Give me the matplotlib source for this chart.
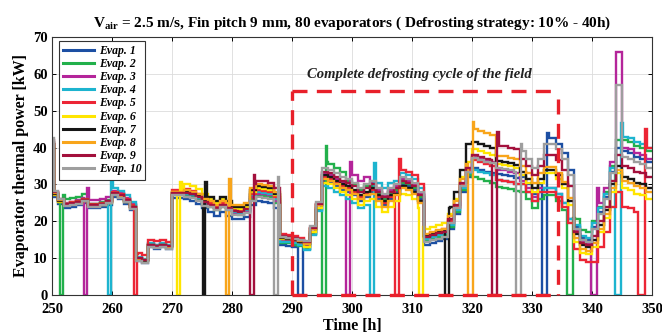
import matplotlib
matplotlib.use("Agg")
import matplotlib.pyplot as plt
from matplotlib.lines import Line2D

# ---------------- data ----------------
T = [250, 250.3] + list(range(251, 350))
T_END = 350

names = ["Evap. 1", "Evap. 2", "Evap. 3", "Evap. 4", "Evap. 5",
         "Evap. 6", "Evap. 7", "Evap. 8", "Evap. 9", "Evap. 10"]
colors = ["#1c4fa3", "#22b04b", "#b4259a", "#1db4cf", "#ec2535",
          "#ffe500", "#161616", "#f8a51b", "#a3103c", "#9e9e9e"]

evap1 = [40, 26.7, 24.7, 23.7, 24.0, 24.4, 25.0, 23.6, 23.6, 23.9, 24.5, 26.7, 26.0, 24.7, 23.0,
         9.2, 8.7, 12.9, 12.6, 12.9, 12.4, 26.3, 26.3, 26.0, 25.5, 24.8, 23.5, 22.5, 21.5, 22.5, 21.5,
         20.7, 20.5, 21.2, 24.5, 25.5, 25.3, 25.0, 23.5, 13.5, 13.3, 13.0, 12.5, 12.5, 16.5, 23.0,
         31.0, 30.5, 29.5, 28.5, 28.0, 27.0, 25.5, 26.5, 28.0, 26.0, 24.5, 26.0, 28.0, 30.0, 29.5,
         28.5, 26.0, 13.7, 14.2, 14.7, 15.2, 18.0, 22.0, 28.0, 32.0, 34.5, 34.0, 33.5, 33.0, 32.7,
         32.5, 32.2, 31.7, 32.0, 30.0, 27.5, 30.0, 42.5, 42.5, 41.0, 38.5, 34.0, 18.5, 15.5, 15.0,
         18.5, 22.5, 26.5, 33.5, 40, 39.0, 38.5, 37.5, 37.0, 36.0]
evap2 = [41, 27.8, 25.8, 26.0, 26.3, 26.7, 27.3, 24.8, 24.8, 25.1, 25.7, 28.0, 27.3, 26.0, 24.3,
         10.0, 9.5, 13.7, 13.4, 13.7, 13.2, 27.2, 27.2, 27.0, 26.5, 25.8, 24.5, 24.0, 23.0, 24.0, 23.0,
         22.0, 21.8, 22.5, 26.0, 27.0, 26.8, 26.5, 25.0, 14.2, 14.0, 13.7, 13.2, 12.5, 16.5, 23.0,
         36.0, 35.5, 34.5, 33.5, 31.0, 30.0, 28.5, 29.5, 29.5, 27.5, 26.0, 27.5, 28.5, 30.5, 30.0,
         29.0, 26.5, 14.7, 15.2, 15.7, 16.2, 18.5, 22.5, 28.5, 32.5, 32.0, 31.5, 31.0, 30.5, 29.2,
         29.0, 28.7, 28.2, 28.0, 26.0, 23.5, 26.0, 27.0, 27.0, 25.5, 23.0, 18.5, 20.5, 17.5, 17.0,
         20.0, 24.0, 28.0, 35.0, 42, 42.0, 41.5, 40.5, 40.0, 39.0]
evap3 = [41, 27.5, 25.5, 25.0, 25.3, 25.7, 26.3, 25.8, 25.8, 26.1, 26.7, 28.3, 27.6, 26.3, 24.6,
         10.1, 9.6, 13.8, 13.5, 13.8, 13.3, 27.5, 27.5, 27.5, 27.0, 26.3, 25.0, 24.5, 23.5, 24.5, 23.5,
         22.2, 22.0, 22.7, 26.5, 27.5, 27.3, 27.0, 25.5, 15.0, 14.8, 14.5, 14.0, 13.2, 17.2, 23.7,
         33.0, 32.5, 31.5, 30.5, 33.5, 32.5, 31.0, 32.0, 30.5, 28.5, 27.0, 28.5, 29.5, 31.5, 31.0,
         30.0, 27.5, 15.5, 16.0, 16.5, 17.0, 19.5, 23.5, 29.5, 33.5, 37.5, 37.0, 36.5, 36.0, 34.0,
         33.8, 33.5, 33.0, 31.0, 29.0, 26.5, 29.0, 29.0, 29.0, 27.5, 25.0, 20.5, 17.5, 14.5, 14.0,
         21.0, 25.0, 29.0, 36.0, 66, 40.0, 39.5, 38.5, 38.0, 37.0]
evap4 = [41.5, 27.7, 25.7, 24.7, 25.0, 25.4, 26.0, 24.6, 24.6, 24.9, 25.5, 29.0, 28.3, 27.0, 25.3,
         10.3, 9.8, 14.0, 13.7, 14.0, 13.5, 27.8, 27.8, 27.5, 27.0, 26.3, 25.0, 24.8, 23.8, 24.8, 23.8,
         22.5, 22.3, 23.0, 27.0, 28.0, 27.8, 27.5, 26.0, 14.5, 14.3, 14.0, 13.5, 12.3, 16.3, 22.8,
         29.5, 29.0, 28.0, 27.0, 26.0, 25.0, 23.5, 24.5, 32.5, 30.5, 29.0, 30.5, 31.0, 33.0, 32.5,
         31.5, 29.0, 15.2, 15.7, 16.2, 16.7, 19.0, 23.0, 29.0, 33.0, 34.0, 33.5, 33.0, 32.5, 31.2,
         31.0, 30.7, 30.2, 30.0, 28.0, 25.5, 28.0, 29.0, 29.0, 27.5, 25.0, 20.5, 19.0, 16.0, 15.5,
         19.5, 23.5, 27.5, 34.5, 44, 43.0, 42.5, 41.5, 41.0, 40.0]
evap5 = [41, 27.9, 25.9, 24.8, 25.1, 25.5, 26.1, 24.6, 24.6, 24.9, 25.5, 28.0, 27.3, 26.0, 24.3,
         11.3, 10.8, 15.0, 14.7, 15.0, 14.5, 28.5, 28.5, 28.7, 28.2, 27.5, 26.2, 25.0, 24.0, 25.0, 24.0,
         23.0, 22.8, 23.5, 27.5, 28.5, 28.3, 28.0, 26.5, 16.5, 16.3, 16.0, 15.5, 14.3, 18.3, 24.8,
         32.0, 31.5, 30.5, 29.5, 29.0, 28.0, 26.5, 27.5, 28.5, 26.5, 25.0, 26.5, 28.0, 34.0, 33.5,
         32.5, 30.0, 16.3, 16.8, 17.3, 17.8, 20.0, 24.0, 30.0, 34.0, 36.5, 36.0, 35.5, 35.0, 31.2,
         31.0, 30.7, 30.2, 30.0, 28.0, 25.5, 28.0, 28.0, 28.0, 26.5, 24.0, 19.5, 12.5, 9.5, 9.0,
         9.0, 13.0, 17.0, 24.0, 28, 24.0, 23.5, 22.5, 22.0, 40.0]
evap6 = [40.5, 27.2, 25.2, 24.3, 24.6, 25.0, 25.6, 24.1, 24.1, 24.4, 25.0, 27.3, 26.6, 25.3, 23.6,
         9.6, 9.1, 13.3, 13.0, 13.3, 12.8, 28.0, 28.0, 30.0, 29.5, 28.8, 27.5, 26.0, 25.0, 26.0, 25.0,
         23.5, 23.3, 24.0, 28.0, 29.0, 28.8, 28.5, 27.0, 15.3, 15.1, 14.8, 14.3, 13.0, 17.0, 23.5,
         30.5, 30.0, 29.0, 28.0, 27.0, 26.0, 24.5, 25.5, 26.0, 24.0, 22.5, 24.0, 25.5, 27.5, 27.0,
         26.0, 23.5, 18.0, 18.5, 19.0, 19.5, 22.0, 26.0, 32.0, 36.0, 39.5, 39.0, 38.5, 38.0, 35.5,
         35.3, 35.0, 34.5, 32.5, 30.5, 28.0, 30.5, 33.0, 33.0, 31.5, 29.0, 24.5, 14.5, 11.5, 11.0,
         13.0, 17.0, 21.0, 28.0, 33, 29.0, 28.5, 27.5, 27.0, 26.0]
evap7 = [41, 27.5, 25.5, 24.5, 24.8, 25.2, 25.8, 24.3, 24.3, 24.6, 25.2, 27.5, 26.8, 25.5, 23.8,
         9.8, 9.3, 13.5, 13.2, 13.5, 13.0, 27.8, 27.8, 28.0, 27.5, 26.8, 25.5, 26.5, 25.5, 26.5, 25.5,
         24.0, 23.8, 24.5, 28.5, 29.5, 29.3, 29.0, 27.5, 15.5, 15.3, 15.0, 14.5, 13.8, 17.8, 24.3,
         32.5, 32.0, 31.0, 30.0, 29.5, 28.5, 27.0, 28.0, 29.0, 27.0, 25.5, 27.0, 27.5, 29.5, 29.0,
         28.0, 25.5, 16.0, 16.5, 17.0, 17.5, 24.0, 28.0, 34.0, 41.0, 41.5, 41.0, 40.5, 40.0, 36.3,
         36.1, 35.8, 35.3, 33.5, 31.5, 29.0, 31.5, 34.0, 34.0, 32.5, 30.0, 25.5, 16.5, 13.5, 13.0,
         15.0, 19.0, 23.0, 30.0, 35, 32.0, 31.5, 30.5, 30.0, 29.0]
evap8 = [41.5, 27.7, 25.7, 24.6, 24.9, 25.3, 25.9, 24.4, 24.4, 24.7, 25.3, 27.6, 26.9, 25.6, 23.9,
         9.9, 9.4, 13.6, 13.3, 13.6, 13.1, 28.0, 28.0, 28.5, 28.0, 27.3, 26.0, 25.5, 24.5, 25.5, 24.5,
         24.5, 24.3, 25.0, 29.0, 30.0, 29.8, 29.5, 28.0, 15.7, 15.5, 15.2, 14.7, 13.8, 17.8, 24.3,
         31.5, 31.0, 30.0, 29.0, 28.5, 27.5, 26.0, 27.0, 27.5, 25.5, 24.0, 25.5, 27.0, 29.0, 28.5,
         27.5, 25.0, 16.5, 17.0, 17.5, 18.0, 21.5, 25.5, 31.5, 35.5, 45.0, 44.5, 44.0, 43.5, 37.8,
         37.6, 37.3, 36.8, 35.0, 33.0, 30.5, 33.0, 34.7, 34.7, 33.2, 30.7, 26.2, 15.5, 12.5, 12.0,
         14.0, 18.0, 22.0, 29.0, 34, 31.0, 30.5, 29.5, 29.0, 28.0]
evap9 = [42, 28.0, 26.0, 24.6, 24.9, 25.3, 25.9, 24.5, 24.5, 24.8, 25.4, 27.7, 27.0, 25.7, 24.0,
         10.0, 9.5, 13.7, 13.4, 13.7, 13.2, 27.8, 27.8, 27.8, 27.3, 26.6, 25.3, 24.5, 23.5, 24.5, 23.5,
         22.8, 22.6, 23.3, 30.0, 31.0, 30.8, 30.5, 29.0, 16.0, 15.8, 15.5, 15.0, 14.3, 18.3, 24.8,
         33.5, 33.0, 32.0, 31.0, 30.5, 29.5, 28.0, 29.0, 30.0, 28.0, 26.5, 28.0, 29.0, 31.0, 30.5,
         29.5, 27.0, 15.7, 16.2, 16.7, 17.2, 20.5, 24.5, 30.5, 34.5, 38.0, 37.5, 37.0, 36.5, 40.5,
         40.3, 40.0, 39.5, 37.0, 35.0, 32.5, 35.0, 38.0, 38.0, 36.5, 34.0, 29.5, 17.0, 14.0, 13.5,
         16.0, 20.0, 24.0, 31.0, 38, 35.0, 34.5, 33.5, 33.0, 32.0]
evap10 = [42.5, 28.1, 26.1, 24.1, 24.4, 24.8, 25.4, 24.0, 24.0, 24.3, 24.9, 27.1, 26.4, 25.1, 23.4,
          9.3, 8.8, 13.0, 12.7, 13.0, 12.5, 27.0, 27.0, 26.7, 26.2, 25.5, 24.2, 24.0, 23.0, 24.0, 23.0,
          21.8, 21.6, 22.3, 25.5, 26.5, 26.3, 26.0, 24.5, 15.8, 15.6, 15.3, 14.8, 14.7, 18.7, 25.2,
          34.5, 34.0, 33.0, 32.0, 31.5, 30.5, 29.0, 30.0, 31.0, 29.0, 27.5, 29.0, 30.0, 32.0, 31.5,
          30.5, 28.0, 14.3, 14.8, 15.3, 15.8, 19.5, 23.5, 29.5, 33.5, 37.2, 36.7, 36.2, 35.7, 34.5,
          34.3, 34.0, 33.5, 39.0, 37.0, 34.5, 37.0, 41.0, 41.0, 39.5, 37.0, 32.5, 18.0, 15.0, 14.5,
          18.0, 22.0, 26.0, 33.0, 57, 37.5, 37.0, 36.0, 35.5, 34.5]

# defrost events per evaporator: (start [h], end [h], power just after defrost [kW])
defrost1 = [(291.0, 291.8, 14.0), (331.6, 332.5, 44.0)]
defrost2 = [(251.3, 251.8, 27.0), (295.0, 295.6, 40.5), (335.8, 336.9, 21.0)]
defrost3 = [(255.4, 255.9, 29.0), (299.0, 299.7, 36.0), (339.8, 340.9, 29.0)]
defrost4 = [(259.4, 259.9, 30.8), (303.0, 303.7, 35.7), (343.8, 344.9, 46.6)]
defrost5 = [(263.6, 264.1, 11.0), (307.2, 307.9, 37.0), (347.7, 348.8, 45.0)]
defrost6 = [(270.9, 271.4, 30.7), (311.1, 311.8, 18.5)]
defrost7 = [(275.1, 275.5, 30.7), (315.5, 316.1, 23.5)]
defrost8 = [(279.0, 279.5, 31.6), (319.4, 320.1, 47.0)]
defrost9 = [(283.0, 283.6, 32.5), (323.4, 324.2, 44.3)]
defrost10 = [(287.0, 287.6, 32.0), (327.4, 328.1, 41.0)]

series = [evap1, evap2, evap3, evap4, evap5, evap6, evap7, evap8, evap9, evap10]
defrosts = [defrost1, defrost2, defrost3, defrost4, defrost5,
            defrost6, defrost7, defrost8, defrost9, defrost10]

CYCLE_START, CYCLE_END, CYCLE_TOP = 290.0, 334.3, 55.3
PEAK_HOLD = 0.3


def overlay(segs, a, b, v):
    out = []
    for s, e, val in segs:
        if e <= a or s >= b:
            out.append((s, e, val))
            continue
        if s < a:
            out.append((s, a, val))
        out.append((max(s, a), min(e, b), v))
        if e > b:
            out.append((b, e, val))
    return out


def build(vals, events):
    edges = list(T) + [T_END]
    segs = [(edges[i], edges[i + 1], vals[i]) for i in range(len(vals))]
    for s, e, p in events:
        segs = overlay(segs, s, e, 0.0)
        segs = overlay(segs, e, min(e + PEAK_HOLD, T_END), p)
    xs = [segs[0][0]] + [sg[1] for sg in segs]
    ys = [sg[2] for sg in segs]
    return xs, ys


plt.rcParams['font.family'] = ['Liberation Serif', 'DejaVu Serif']
plt.rcParams['mathtext.fontset'] = 'custom'
plt.rcParams['mathtext.rm'] = 'Liberation Serif'
plt.rcParams['mathtext.bf'] = 'Liberation Serif:bold'
plt.rcParams['mathtext.it'] = 'Liberation Serif:italic'

fig = plt.figure(figsize=(6.62, 3.35), dpi=100)
ax = fig.add_axes([0.0785, 0.1194, 0.9065, 0.7702])

for vals, ev, name, col in zip(series, defrosts, names, colors):
    xs, ys = build(vals, ev)
    ax.stairs(ys, xs, color=col, lw=1.7, baseline=None, label=name)

# complete defrosting cycle frame
dash = (0, (4.5, 2.8))
rc = "#e8202a"
ax.plot([CYCLE_START, CYCLE_START], [0, CYCLE_TOP], color=rc, lw=2.4, ls=dash, clip_on=False, zorder=5)
ax.plot([CYCLE_START, CYCLE_END], [CYCLE_TOP, CYCLE_TOP], color=rc, lw=2.4, ls=dash, clip_on=False, zorder=5)
ax.plot([CYCLE_END, CYCLE_END], [CYCLE_TOP - 2, 0], color=rc, lw=2.4, ls=dash, clip_on=False, zorder=5)
ax.plot([CYCLE_START, CYCLE_END], [0, 0], color=rc, lw=2.4, ls=dash, clip_on=False, zorder=5)
ax.text(311.3, 59.7, "Complete defrosting cycle of the field", ha="center", va="center",
        fontsize=10.5, fontweight="bold", fontstyle="italic", color="#222222")

ax.set_xlim(250, 350)
ax.set_ylim(0, 70)
ax.set_xticks(range(250, 351, 10))
ax.set_yticks(range(0, 71, 10))
ax.grid(True, color="#dcdcdc", lw=0.6)
ax.set_axisbelow(True)
ax.tick_params(direction="in", top=True, right=True, labelsize=10.5, length=3, width=0.7)
ax.tick_params(axis="x", pad=6)
ax.tick_params(axis="y", pad=3)
for lab in ax.get_xticklabels() + ax.get_yticklabels():
    lab.set_fontweight("bold")
for sp in ax.spines.values():
    sp.set_linewidth(0.8)
    sp.set_color("#333333")

ax.set_xlabel("Time [h]", fontsize=11.5, fontweight="bold", labelpad=1)
ax.set_ylabel("Evaporator thermal power [kW]", fontsize=11.5, fontweight="bold", labelpad=3)
ax.set_title(r"V$_{\mathbf{air}}$ = 2.5 m/s, Fin pitch 9 mm, 80 evaporators ( Defrosting strategy: 10% - 40h)",
             fontsize=11, fontweight="bold", pad=7)

proxies = [Line2D([], [], color=c, lw=2.2) for c in colors]
leg = ax.legend(proxies, names, loc="upper left", bbox_to_anchor=(0.008, 0.995),
                prop={"size": 8.5, "weight": "bold", "style": "italic"},
                fancybox=False, framealpha=1, edgecolor="#333333",
                handlelength=2.6, handletextpad=0.4, labelspacing=0.1, borderpad=0.35,
                borderaxespad=0.2)
leg.get_frame().set_linewidth(0.8)

fig.savefig("out.png", dpi=100)
